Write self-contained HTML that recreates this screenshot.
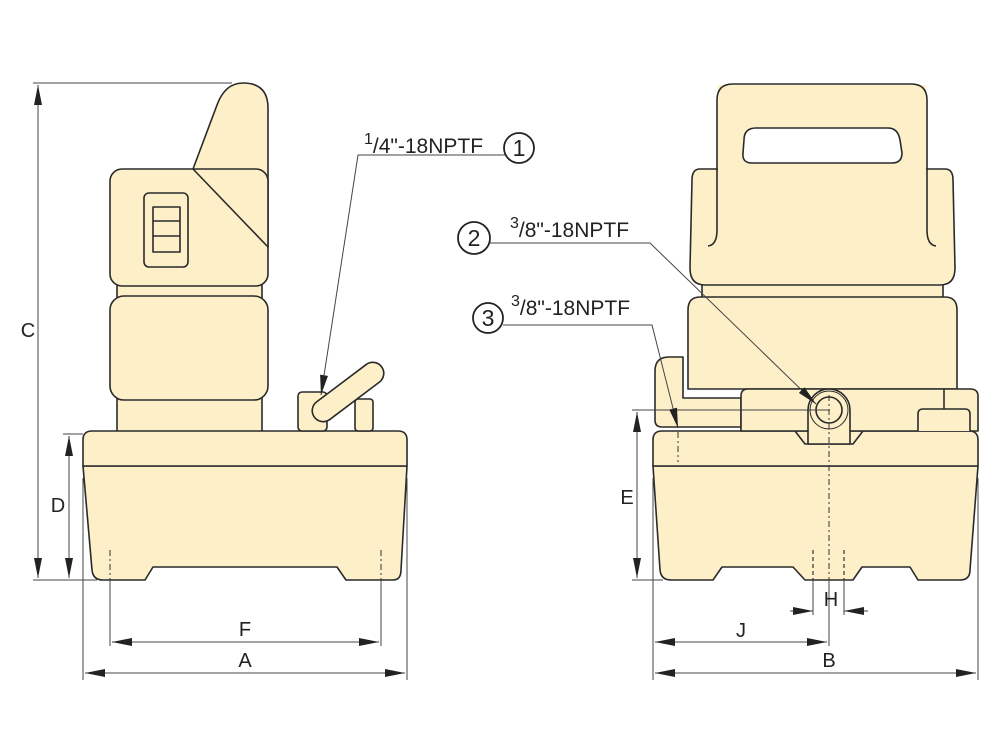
<!DOCTYPE html>
<html><head><meta charset="utf-8"><style>
html,body{margin:0;padding:0;background:#fff}
svg{display:block}
text{font-family:"Liberation Sans",Arial,sans-serif;fill:#222}
</style></head><body>
<svg width="1000" height="750" viewBox="0 0 1000 750" xmlns="http://www.w3.org/2000/svg">
<defs>
<marker id="ar" viewBox="0 0 20 8" refX="20" refY="4" markerWidth="20" markerHeight="8" markerUnits="userSpaceOnUse" orient="auto-start-reverse">
<path d="M0,0 L20,4 L0,8 Z" fill="#222"/></marker>
</defs>
<g fill="#fdf0c8" stroke="#2a2a2a" stroke-width="1.6" stroke-linejoin="round">
<!-- LEFT DEVICE -->
<rect x="117" y="395" width="145" height="40"/>
<rect x="117" y="282" width="145" height="18"/>
<path d="M193,169 L217,105 Q225,83 243,83 Q268,83 268,108 L268,247 Z"/>
<rect x="110" y="169" width="158" height="117" rx="12"/>
<path d="M193,169 L268,247" fill="none"/>
<rect x="144" y="193" width="44" height="74" rx="5"/>
<rect x="153" y="207" width="27" height="45"/>
<path d="M153,221 H180 M153,236 H180" fill="none"/>
<rect x="110" y="296" width="158" height="104" rx="14"/>
<path d="M83,466 L92,570 Q93,580 103,580 L145,580 L153,567 L337,567 L346,580 L393,580 Q401,580 401,570 L407,466 Z"/>
<path d="M83,466 L83,440 Q83,431 92,431 L398,431 Q407,431 407,440 L407,466 Z"/>
<rect x="298" y="392" width="29" height="39" rx="4"/>
<rect x="355" y="399" width="18" height="32" rx="3"/>
<g transform="translate(348,392) rotate(-37)">
<rect x="-42" y="-11" width="84" height="22" rx="11"/>
</g>
<!-- RIGHT DEVICE -->
<rect x="702" y="282" width="241" height="18"/>
<path d="M700,169 L945,169 Q953,169 953,180 L955,268 Q955,285 940,285 L705,285 Q690,285 690,268 L692,180 Q692,169 700,169 Z"/>
<rect x="718" y="85" width="208" height="195" stroke="none"/>
<path d="M708,246 Q717,245 717,230 L717,100 Q717,84 733,84 L911,84 Q927,84 927,100 L927,230 Q927,245 936,246" fill="none"/>
<path d="M744,140 Q744,128 756,128 L888,128 Q898,128 900,140 L902,153 Q902,163 892,163 L752,163 Q742,163 743,153 Z" fill="#fff"/>
<path d="M700,297 L945,297 Q957,297 957,310 L957,389 L688,389 L688,310 Q688,297 700,297 Z"/>
<path d="M669,357 L683,357 L683,398 L741,398 L741,427 L662,427 Q655,427 655,420 L655,371 Q655,357 669,357 Z"/>
<path d="M653,466 L660,570 Q661,580 671,580 L713,580 L722,567 L793,567 L805,580 L853,580 L862,567 L910,567 L918,580 L960,580 Q970,580 970,570 L978,466 Z"/>
<path d="M653,466 L653,440 Q653,431 662,431 L969,431 Q978,431 978,440 L978,466 Z"/>
<path d="M795,431 L805,444 L853,444 L863,431" fill="none"/>
<path d="M741,431 L741,396 Q741,389 748,389 L970,389 Q978,389 978,396 L978,431 Z"/>
<path d="M944,389 L944,409" fill="none"/>
<path d="M918,431 L918,414 Q918,409 923,409 L965,409 Q970,409 970,414 L970,431"/>
<path d="M808,444 L808,410 A21,21 0 0 1 850,410 L850,444 Z"/>
<circle cx="829" cy="410" r="19" fill="none" stroke-width="1"/>
<circle cx="829" cy="410" r="13"/>
</g>
<g stroke="#333" stroke-width="1" fill="none" stroke-dasharray="6,3,2,3">
<path d="M110,550 V580 M381,550 V580 M678,432 V462 M829,395 V580"/>
</g>
<g stroke="#333" stroke-width="1.2" fill="none" stroke-dasharray="4,3">
<path d="M813,550 V580 M844,550 V580"/>
</g>
<g stroke="#444" stroke-width="1" fill="none">
<path d="M33,83 H232 M33,580 H97 M63,434 H83 M632,410 H830 M632,580 H663"/>
<path d="M83,478 V680 M407,478 V680 M110,580 V646 M381,580 V646"/>
<path d="M653,478 V680 M978,478 V680 M829,580 V646 M813,580 V615 M844,580 V615"/>
<path d="M38,85 V578" marker-start="url(#ar)" marker-end="url(#ar)"/>
<path d="M69,436 V578" marker-start="url(#ar)" marker-end="url(#ar)"/>
<path d="M637,412 V578" marker-start="url(#ar)" marker-end="url(#ar)"/>
<path d="M85,673 H405" marker-start="url(#ar)" marker-end="url(#ar)"/>
<path d="M112,642 H379" marker-start="url(#ar)" marker-end="url(#ar)"/>
<path d="M655,673 H976" marker-start="url(#ar)" marker-end="url(#ar)"/>
<path d="M655,642 H827" marker-start="url(#ar)" marker-end="url(#ar)"/>
<path d="M790,611 H813" marker-end="url(#ar)"/>
<path d="M868,611 H844" marker-end="url(#ar)"/>
<path d="M505,155 H358 L321,395" marker-end="url(#ar)"/>
<path d="M490,243 H650 L816,404" marker-end="url(#ar)"/>
<path d="M503,325 H652 L678,428" marker-end="url(#ar)"/>
</g>
<g fill="none" stroke="#222" stroke-width="1.8">
<circle cx="519" cy="148" r="15"/>
<circle cx="474" cy="238" r="16"/>
<circle cx="488" cy="318" r="15"/>
</g>
<g font-size="23" text-anchor="middle">
<text x="519" y="156">1</text>
<text x="474" y="246">2</text>
<text x="488" y="326">3</text>
</g>
<g font-size="21">
<text x="364" y="153"><tspan font-size="16" dy="-9">1</tspan><tspan dy="9">/4"-18NPTF</tspan></text>
<text x="510" y="237"><tspan font-size="16" dy="-9">3</tspan><tspan dy="9">/8"-18NPTF</tspan></text>
<text x="511" y="315"><tspan font-size="16" dy="-9">3</tspan><tspan dy="9">/8"-18NPTF</tspan></text>
</g>
<g font-size="20" text-anchor="middle">
<text x="28" y="337">C</text>
<text x="58" y="512">D</text>
<text x="245" y="636">F</text>
<text x="245" y="667">A</text>
<text x="627" y="504">E</text>
<text x="831" y="606">H</text>
<text x="741" y="637">J</text>
<text x="829" y="667">B</text>
</g>
</svg>
</body></html>
